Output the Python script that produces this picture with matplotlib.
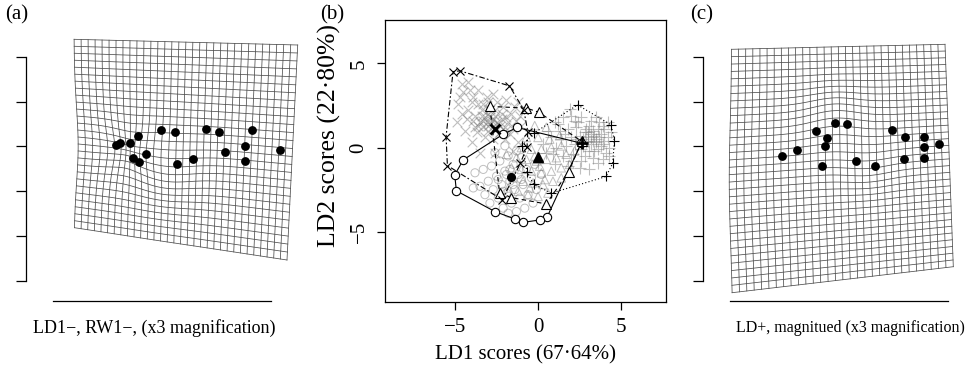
import matplotlib
matplotlib.use('Agg')
import matplotlib.pyplot as plt
import numpy as np

plt.rcParams['font.family'] = ['Liberation Serif', 'DejaVu Serif']

# ---- panel (a) / (c): deformation grids (pixel units) ----
grid_a_corners = [(74, 39.3), (297.7, 45), (74, 227.7), (287, 260)]  # TL, TR, BL, BR
grid_a_cells = (32, 27)
lm_a_x = [115.7, 120, 130, 138.3, 161, 175, 205.7, 219.3, 251.7,
          133.3, 139.3, 145.7, 176.7, 192.7, 225, 245.3, 245, 280]
lm_a_y = [145, 142.7, 143.3, 136, 130, 132.3, 128.7, 132.3, 130,
          158.3, 161.7, 154.3, 164.3, 159.3, 151.7, 146, 160.7, 150]
# warps: centre x, centre y, dx, dy, radial scale, radius
warp_a = [(128, 150, 0, 0, -0.35, 18), (165, 170, 0, 7, 0, 25), (80, 145, 4, 0, 0, 40)]

grid_c_corners = [(731.7, 49.3), (945, 44.3), (732.7, 292.7), (953.3, 266.7)]
grid_c_cells = (30, 33)
lm_c_x = [781.7, 796.7, 815.7, 827.3, 824.7, 821.7, 835, 847.3, 856,
          875.3, 892, 904.7, 924.3, 924.3, 939.3, 904.3, 924]
lm_c_y = [156, 150, 131, 137.7, 146, 166, 123.3, 124, 160.7,
          166, 130, 137, 137.3, 147.3, 144.3, 159, 158.3]
warp_c = [(835, 118, 0, -7, 0, 22), (868, 168, 0, 4, 0, 20), (728, 185, -3, 0, 0, 60)]

# ---- panel (b): LDA scores ----
circ_hull_x = [-1.26, 2.6, 0.56, 0.1, -0.88, -1.4, -2.6, -4.92, -5.02, -4.5, -2.1]
circ_hull_y = [1.19, 0.26, -4.1, -4.3, -4.44, -4.24, -3.8, -2.57, -1.62, -0.73, 0.79]
tri_hull_x = [-2.9, -0.7, 0.04, 2.64, 1.84, 0.5, -1.62, -2.32]
tri_hull_y = [2.44, 2.34, 2.1, 0.36, -1.43, -3.35, -2.97, -2.67]
x_hull_x = [-5.12, -4.7, -1.72, -0.86, -0.62, -0.66, -1.06, -2.16, -5.46, -5.54]
x_hull_y = [4.51, 4.55, 3.66, 2.24, 0.95, 0.06, -0.93, -3.1, -1.07, 0.65]
plus_hull_x = [2.38, 4.4, 4.6, 4.5, 4.1, 0.8, -0.26, -0.66, -0.96, -0.26]
plus_hull_y = [2.53, 1.35, 0.4, -0.93, -1.72, -2.71, -2.18, -1.47, 0.12, 0.85]

centroid_x = {'o': -1.6, '^': -0.02, 'x': -2.62, '+': 2.64}
centroid_y = {'o': -1.76, '^': -0.59, 'x': 1.09, '+': 0.26}

x_cloud = [(-4.6, 3.8), (-4.2, 3.9), (-4.5, 3.3), (-3.9, 3.0), (-3.6, 3.4), (-3.3, 2.6), (-4.8, 2.6),
           (-4.2, 2.2), (-3.8, 1.9), (-3.5, 1.5), (-3.2, 1.8), (-3.0, 1.3), (-2.8, 1.6), (-2.6, 1.9),
           (-2.4, 1.4), (-2.2, 1.7), (-2.0, 1.2), (-1.8, 1.5), (-3.4, 2.2), (-2.9, 2.3), (-2.5, 2.7),
           (-2.1, 2.4), (-1.6, 2.0), (-1.3, 1.6), (-1.0, 1.3), (-3.7, 0.9), (-3.2, 0.6), (-2.7, 0.5),
           (-4.4, 1.0), (-4.9, 1.5), (-3.0, 1.0), (-2.7, 1.2), (-3.3, 1.2), (-2.9, 1.8), (-2.3, 0.9),
           (-1.7, 0.8), (-1.2, 0.3), (-4.0, 0.3), (-1.9, 2.8), (-1.2, 2.7), (-3.1, 3.0), (-3.6, 1.3),
           (-3.9, 1.6), (-2.5, 1.1), (-2.0, 0.5), (-1.5, -0.2), (-2.6, -0.3), (-3.5, -0.3),
           (-3.3, 1.6), (-3.1, 1.5), (-2.9, 1.4), (-2.7, 1.7), (-2.5, 1.5), (-2.3, 1.3), (-3.4, 1.9),
           (-3.0, 2.0), (-2.6, 2.2), (-2.2, 2.0), (-1.9, 1.8), (-3.6, 2.6), (-4.0, 2.7), (-4.3, 1.7),
           (-4.6, 2.0), (-3.8, 1.2), (-2.0, 1.0), (-1.5, 1.1), (-1.1, 1.9), (-1.4, 2.4), (-4.1, 3.4),
           (-3.0, 2.7), (-2.7, 3.2), (-4.7, 3.0)]
plus_cloud = [(1.0, 1.5), (1.5, 1.8), (2.0, 1.9), (2.6, 1.8), (3.2, 1.6), (3.7, 1.5), (4.0, 1.1),
              (1.3, 1.0), (1.8, 1.1), (2.3, 1.2), (2.9, 1.1), (3.3, 1.0), (3.8, 0.8), (4.2, 0.6),
              (0.8, 0.6), (1.4, 0.5), (2.0, 0.6), (2.5, 0.7), (3.0, 0.6), (3.5, 0.5), (3.9, 0.2),
              (4.3, 0.0), (1.1, 0.0), (1.7, 0.1), (2.2, 0.2), (2.7, 0.1), (3.2, 0.2), (3.6, -0.1),
              (0.5, -0.3), (1.5, -0.5), (2.1, -0.4), (2.8, -0.5), (3.3, -0.6), (3.9, -0.7), (1.0, -1.0),
              (1.8, -1.1), (2.5, -1.2), (3.1, -1.3), (0.3, 0.2), (0.0, -0.9), (3.0, 0.9), (3.4, 0.7),
              (2.9, 0.3), (3.6, 1.1), (2.4, 1.5), (4.2, 1.5), (0.6, 1.0), (1.9, 2.3), (3.3, 0.4), (3.1, -0.2),
              (3.0, 0.4), (3.2, 0.8), (3.5, 0.3), (3.7, 0.6), (2.7, 0.5), (2.8, 0.9), (3.4, -0.2),
              (3.8, 0.1), (4.0, 0.4), (4.1, -0.3), (2.3, 0.5), (2.6, -0.1), (3.1, 1.3), (3.9, 1.3),
              (4.4, 0.9), (2.0, -0.8), (2.6, -0.8), (3.6, -0.9), (1.2, 1.4), (0.9, -0.4), (1.6, 0.8),
              (2.2, 1.6), (3.5, 1.8), (4.3, -0.5)]
circ_cloud = [(-3.5, -2.3), (-3.0, -2.0), (-2.5, -1.7), (-2.0, -1.4), (-1.5, -1.0), (-1.0, -0.6),
              (-3.2, -2.8), (-2.7, -2.5), (-2.2, -2.2), (-1.7, -2.0), (-1.2, -1.6), (-0.7, -1.3),
              (-2.9, -3.3), (-2.4, -3.0), (-1.9, -2.7), (-1.4, -2.5), (-0.9, -2.2), (-0.4, -1.8),
              (-2.1, -3.6), (-1.6, -3.3), (-1.1, -3.0), (-0.6, -2.8), (-0.1, -2.5), (-1.3, -3.8),
              (-0.8, -3.6), (-0.3, -3.3), (-3.8, -1.5), (-3.3, -1.3), (-2.8, -1.1), (-2.3, -0.8),
              (-1.8, -0.5), (-1.3, -0.2), (-2.6, -0.3), (-2.0, 0.1), (-3.9, -2.4), (-1.8, -3.9),
              (-0.2, -1.0), (0.2, -1.6), (-2.4, -1.9), (-1.9, -1.6), (-1.5, -2.2), (-1.0, -1.9),
              (-2.1, -2.6), (-1.7, -1.3)]
tri_cloud = [(-1.8, -2.4), (-1.2, -2.6), (-0.6, -2.8), (0.0, -2.9), (0.6, -2.7), (-1.5, -1.8),
             (-0.9, -2.0), (-0.3, -2.1), (0.3, -2.2), (0.9, -2.0), (1.4, -1.8), (-1.6, -1.2),
             (-1.0, -1.3), (-0.4, -1.4), (0.2, -1.5), (0.8, -1.4), (1.4, -1.2), (1.9, -1.0),
             (-1.3, -0.6), (-0.7, -0.7), (-0.1, -0.8), (0.5, -0.7), (1.1, -0.6), (1.7, -0.4),
             (-1.0, 0.0), (-0.4, -0.1), (0.2, -0.1), (0.8, 0.0), (1.4, 0.1), (-0.7, 0.6),
             (0.0, 0.6), (0.7, 0.5), (1.3, 0.7), (-0.2, 1.3), (0.5, 1.2), (-1.9, -0.4),
             (2.2, -0.2), (0.1, -1.1), (-0.5, -2.4), (0.4, -1.9), (-0.2, -0.5)]


def warp_points(px, py, warps):
    x, y = px.copy(), py.copy()
    for cx, cy, dx, dy, s, r in warps:
        w = np.exp(-((px - cx) ** 2 + (py - cy) ** 2) / (2 * r ** 2))
        x += (dx + s * (px - cx)) * w
        y += (dy + s * (py - cy)) * w
    return x, y


def draw_grid(ax, corners, cells, warps):
    tl, tr, bl, br = [np.array(c, dtype=float) for c in corners]
    ncol, nrow = cells

    def bilinear(u, v):
        p = ((1 - u) * (1 - v))[..., None] * tl + (u * (1 - v))[..., None] * tr \
            + ((1 - u) * v)[..., None] * bl + (u * v)[..., None] * br
        return warp_points(p[..., 0], p[..., 1], warps)

    t = np.linspace(0, 1, 120)
    for v in np.linspace(0, 1, nrow + 1):
        x, y = bilinear(t, np.full_like(t, v))
        ax.plot(x, y, color='0.3', lw=0.55)
    for u in np.linspace(0, 1, ncol + 1):
        x, y = bilinear(np.full_like(t, u), t)
        ax.plot(x, y, color='0.3', lw=0.55)


def grid_panel(fig, rect, xlim, corners, cells, warps, lm_x, lm_y, bar_x, hbar,
               caption, cap_x, cap_size):
    ax = fig.add_axes(rect)
    ax.set_xlim(*xlim)
    ax.set_ylim(370, 0)
    draw_grid(ax, corners, cells, warps)
    ax.plot(lm_x, lm_y, 'o', color='black', ms=5.3, zorder=5)
    for side in ('top', 'right'):
        ax.spines[side].set_visible(False)
    ax.spines['left'].set_position(('data', bar_x))
    ax.spines['left'].set_bounds(56.7, 281)
    ax.spines['bottom'].set_position(('data', 301))
    ax.spines['bottom'].set_bounds(*hbar)
    ax.spines['left'].set_linewidth(0.9)
    ax.spines['bottom'].set_linewidth(0.9)
    ax.set_yticks(np.linspace(56.7, 281, 6))
    ax.set_yticklabels([])
    ax.tick_params(axis='y', direction='out', length=7.2, width=0.9)
    ax.set_xticks([])
    ax.patch.set_visible(False)
    ax.text(cap_x, 328, caption, ha='center', va='center', fontsize=cap_size)
    return ax


fig = plt.figure(figsize=(9.67, 3.7), dpi=100)

grid_panel(fig, [0, 0, 330 / 967, 1], (0, 330), grid_a_corners, grid_a_cells, warp_a,
           lm_a_x, lm_a_y, 26, (52.7, 270.7), 'LD1\u2212, RW1\u2212, (x3 magnification)', 154, 13)
grid_panel(fig, [680 / 967, 0, 287 / 967, 1], (680, 967), grid_c_corners, grid_c_cells, warp_c,
           lm_c_x, lm_c_y, 702.7, (730, 947.7), 'LD+, magnitued (x3 magnification)', 850, 11.5)

# ---- panel (b) ----
ax = fig.add_axes([385 / 967, (370 - 302) / 370, 281 / 967, 282 / 370])
gray = (0.5, 0.5, 0.5)
cloud_kw = dict(alpha=0.5, zorder=1)
ax.scatter(*zip(*circ_cloud), marker='o', s=34, facecolors='none', edgecolors=[gray], linewidths=0.7, **cloud_kw)
ax.scatter(*zip(*tri_cloud), marker='^', s=38, facecolors='none', edgecolors=[gray], linewidths=0.7, **cloud_kw)
ax.scatter(*zip(*x_cloud), marker='x', s=48, color=gray, linewidths=0.8, **cloud_kw)
ax.scatter(*zip(*plus_cloud), marker='+', s=65, color=gray, linewidths=0.8, **cloud_kw)

hulls = [(circ_hull_x, circ_hull_y, 'o', '-'),
         (tri_hull_x, tri_hull_y, '^', (0, (4, 3))),
         (x_hull_x, x_hull_y, 'x', (0, (1.5, 2, 5, 2))),
         (plus_hull_x, plus_hull_y, '+', (0, (1, 2)))]
for hx, hy, mk, ls in hulls:
    cx = list(hx) + [hx[0]]
    cy = list(hy) + [hy[0]]
    ax.plot(cx, cy, color='black', lw=0.8, ls=ls, zorder=3)
    size = {'o': 6, '^': 7, 'x': 6, '+': 7.5}[mk]
    ax.plot(hx, hy, ls='none', marker=mk, ms=size, mfc='white' if mk in 'o^' else 'none',
            mec='black', mew=0.8, zorder=4)

ax.plot(centroid_x['o'], centroid_y['o'], 'o', color='black', ms=5.5, zorder=5)
ax.plot(centroid_x['^'], centroid_y['^'], '^', color='black', ms=6.5, zorder=5)
ax.plot(centroid_x['x'], centroid_y['x'], 'x', color='black', ms=7, mew=2, zorder=5)
ax.plot(centroid_x['+'], centroid_y['+'], '+', color='black', ms=8, mew=2, zorder=5)

ax.set_xlim(-9.22, 7.71)
ax.set_ylim(-9.17, 7.57)
ax.set_xticks([-5, 0, 5])
ax.set_yticks([-5, 0, 5])
ax.tick_params(direction='out', length=5.8, width=0.9, labelsize=15, pad=6)
for lab in ax.get_yticklabels():
    lab.set_rotation(90)
    lab.set_va('center')
for sp in ax.spines.values():
    sp.set_linewidth(0.9)
ax.set_xlabel('LD1 scores (67\u00b764%)', fontsize=15, labelpad=6)
ax.set_ylabel('LD2 scores (22\u00b780%)', fontsize=18.5)
ax.yaxis.set_label_coords(-0.155, 0.589)

fig.text(5 / 967, 1 - 15 / 370, '(a)', fontsize=15, va='center')
fig.text(320 / 967, 1 - 15 / 370, '(b)', fontsize=15, va='center')
fig.text(690 / 967, 1 - 15 / 370, '(c)', fontsize=15, va='center')

fig.savefig('out.png', dpi=100)
